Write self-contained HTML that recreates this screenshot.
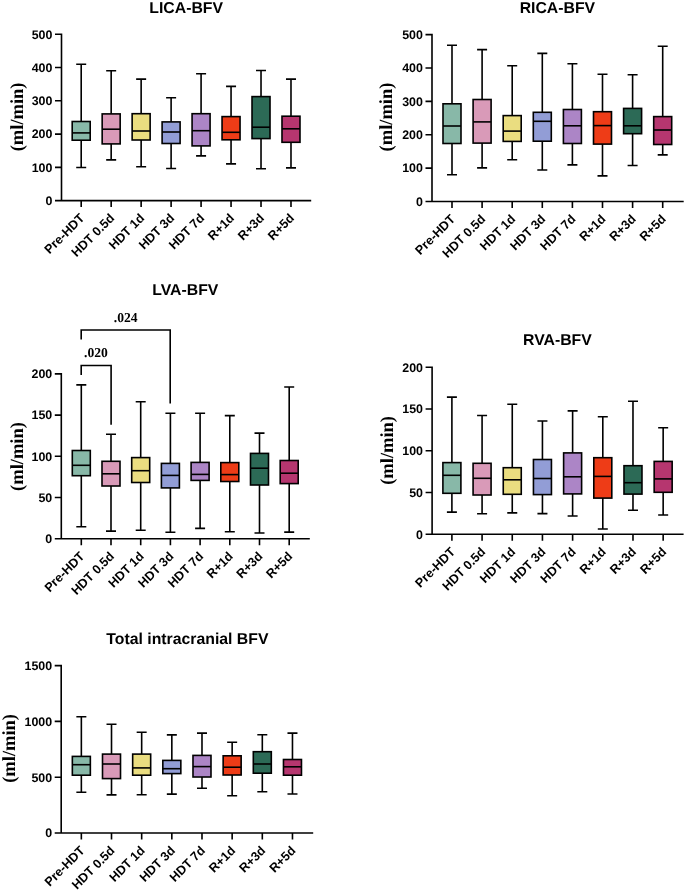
<!DOCTYPE html><html><head><meta charset="utf-8"><title>BFV box plots</title><style>html,body{margin:0;padding:0;background:#fff;}body{width:685px;height:891px;overflow:hidden;}svg{display:block;will-change:transform;}text{text-rendering:geometricPrecision;}.t{font-family:"Liberation Sans",sans-serif;font-weight:bold;fill:#000;}.s{font-family:"Liberation Serif",serif;font-weight:bold;fill:#000;}</style></head><body>
<svg width="685" height="891" viewBox="0 0 685 891">
<rect width="685" height="891" fill="#fff"/>
<g><text class="t" x="186.2" y="12.8" font-size="15.8" text-anchor="middle">LICA-BFV</text><text class="s" font-size="18.5" text-anchor="middle" transform="translate(16.6,116.9) rotate(-90)" y="6">(ml/min)</text><text class="t" x="52.4" y="204.9" font-size="12.4" text-anchor="end">0</text><text class="t" x="52.4" y="171.64" font-size="12.4" text-anchor="end">100</text><text class="t" x="52.4" y="138.38" font-size="12.4" text-anchor="end">200</text><text class="t" x="52.4" y="105.12" font-size="12.4" text-anchor="end">300</text><text class="t" x="52.4" y="71.86" font-size="12.4" text-anchor="end">400</text><text class="t" x="52.4" y="38.6" font-size="12.4" text-anchor="end">500</text><text class="t" font-size="12.6" text-anchor="end" transform="translate(85.2,218.9) rotate(-45)">Pre-HDT</text><text class="t" font-size="12.6" text-anchor="end" transform="translate(115.17,218.9) rotate(-45)">HDT 0.5d</text><text class="t" font-size="12.6" text-anchor="end" transform="translate(145.14,218.9) rotate(-45)">HDT 1d</text><text class="t" font-size="12.6" text-anchor="end" transform="translate(175.11,218.9) rotate(-45)">HDT 3d</text><text class="t" font-size="12.6" text-anchor="end" transform="translate(205.08,218.9) rotate(-45)">HDT 7d</text><text class="t" font-size="12.6" text-anchor="end" transform="translate(235.05,218.9) rotate(-45)">R+1d</text><text class="t" font-size="12.6" text-anchor="end" transform="translate(265.02,218.9) rotate(-45)">R+3d</text><text class="t" font-size="12.6" text-anchor="end" transform="translate(294.99,218.9) rotate(-45)">R+5d</text><path d="M61.5 33.5V200.6H311.2M61.5 200.6H55M61.5 167.34H55M61.5 134.08H55M61.5 100.82H55M61.5 67.56H55M61.5 34.3H55M81.2 200.6V207.1M111.17 200.6V207.1M141.14 200.6V207.1M171.11 200.6V207.1M201.08 200.6V207.1M231.05 200.6V207.1M261.02 200.6V207.1M290.99 200.6V207.1" fill="none" stroke="#000" stroke-width="1.6"/><path d="M81.2 64.2V121.5M81.2 140.2V167.5M76.2 64.2H86.2M76.2 167.5H86.2" fill="none" stroke="#000" stroke-width="1.6"/><rect x="72.2" y="121.5" width="18" height="18.7" fill="#88B8A8" stroke="#000" stroke-width="1.6"/><path d="M72.2 132.9H90.2" stroke="#000" stroke-width="1.6"/><path d="M111.17 70.7V113.9M111.17 143.9V159.9M106.17 70.7H116.17M106.17 159.9H116.17" fill="none" stroke="#000" stroke-width="1.6"/><rect x="102.17" y="113.9" width="18" height="30" fill="#D99AB8" stroke="#000" stroke-width="1.6"/><path d="M102.17 129.2H120.17" stroke="#000" stroke-width="1.6"/><path d="M141.14 79.1V113.7M141.14 140V166.7M136.14 79.1H146.14M136.14 166.7H146.14" fill="none" stroke="#000" stroke-width="1.6"/><rect x="132.14" y="113.7" width="18" height="26.3" fill="#EADD80" stroke="#000" stroke-width="1.6"/><path d="M132.14 131H150.14" stroke="#000" stroke-width="1.6"/><path d="M171.11 97.8V121.9M171.11 143.5V168.5M166.11 97.8H176.11M166.11 168.5H176.11" fill="none" stroke="#000" stroke-width="1.6"/><rect x="162.11" y="121.9" width="18" height="21.6" fill="#929DD6" stroke="#000" stroke-width="1.6"/><path d="M162.11 132H180.11" stroke="#000" stroke-width="1.6"/><path d="M201.08 73.8V113.7M201.08 145.9V155.9M196.08 73.8H206.08M196.08 155.9H206.08" fill="none" stroke="#000" stroke-width="1.6"/><rect x="192.08" y="113.7" width="18" height="32.2" fill="#AC85C6" stroke="#000" stroke-width="1.6"/><path d="M192.08 130.7H210.08" stroke="#000" stroke-width="1.6"/><path d="M231.05 86.4V116.6M231.05 139.8V163.9M226.05 86.4H236.05M226.05 163.9H236.05" fill="none" stroke="#000" stroke-width="1.6"/><rect x="222.05" y="116.6" width="18" height="23.2" fill="#EE3C17" stroke="#000" stroke-width="1.6"/><path d="M222.05 132.3H240.05" stroke="#000" stroke-width="1.6"/><path d="M261.02 70.5V96.6M261.02 138.6V168.8M256.02 70.5H266.02M256.02 168.8H266.02" fill="none" stroke="#000" stroke-width="1.6"/><rect x="252.02" y="96.6" width="18" height="42" fill="#2C6A56" stroke="#000" stroke-width="1.6"/><path d="M252.02 127.2H270.02" stroke="#000" stroke-width="1.6"/><path d="M290.99 79.1V116.2M290.99 142.3V167.9M285.99 79.1H295.99M285.99 167.9H295.99" fill="none" stroke="#000" stroke-width="1.6"/><rect x="281.99" y="116.2" width="18" height="26.1" fill="#B6366F" stroke="#000" stroke-width="1.6"/><path d="M281.99 128.8H299.99" stroke="#000" stroke-width="1.6"/></g>
<g><text class="t" x="557.4" y="12.8" font-size="15.8" text-anchor="middle">RICA-BFV</text><text class="s" font-size="18.5" text-anchor="middle" transform="translate(386.3,117) rotate(-90)" y="6">(ml/min)</text><text class="t" x="422.9" y="205.8" font-size="12.4" text-anchor="end">0</text><text class="t" x="422.9" y="172.42" font-size="12.4" text-anchor="end">100</text><text class="t" x="422.9" y="139.04" font-size="12.4" text-anchor="end">200</text><text class="t" x="422.9" y="105.66" font-size="12.4" text-anchor="end">300</text><text class="t" x="422.9" y="72.28" font-size="12.4" text-anchor="end">400</text><text class="t" x="422.9" y="38.9" font-size="12.4" text-anchor="end">500</text><text class="t" font-size="12.6" text-anchor="end" transform="translate(456,219.8) rotate(-45)">Pre-HDT</text><text class="t" font-size="12.6" text-anchor="end" transform="translate(486.1,219.8) rotate(-45)">HDT 0.5d</text><text class="t" font-size="12.6" text-anchor="end" transform="translate(516.2,219.8) rotate(-45)">HDT 1d</text><text class="t" font-size="12.6" text-anchor="end" transform="translate(546.3,219.8) rotate(-45)">HDT 3d</text><text class="t" font-size="12.6" text-anchor="end" transform="translate(576.4,219.8) rotate(-45)">HDT 7d</text><text class="t" font-size="12.6" text-anchor="end" transform="translate(606.5,219.8) rotate(-45)">R+1d</text><text class="t" font-size="12.6" text-anchor="end" transform="translate(636.6,219.8) rotate(-45)">R+3d</text><text class="t" font-size="12.6" text-anchor="end" transform="translate(666.7,219.8) rotate(-45)">R+5d</text><path d="M432 33.8V201.5H683.7M432 201.5H425.5M432 168.12H425.5M432 134.74H425.5M432 101.36H425.5M432 67.98H425.5M432 34.6H425.5M452 201.5V208M482.1 201.5V208M512.2 201.5V208M542.3 201.5V208M572.4 201.5V208M602.5 201.5V208M632.6 201.5V208M662.7 201.5V208" fill="none" stroke="#000" stroke-width="1.6"/><path d="M452 45.3V103.8M452 143.5V174.7M447 45.3H457M447 174.7H457" fill="none" stroke="#000" stroke-width="1.6"/><rect x="443" y="103.8" width="18" height="39.7" fill="#88B8A8" stroke="#000" stroke-width="1.6"/><path d="M443 126H461" stroke="#000" stroke-width="1.6"/><path d="M482.1 49.6V99.5M482.1 143.1V167.9M477.1 49.6H487.1M477.1 167.9H487.1" fill="none" stroke="#000" stroke-width="1.6"/><rect x="473.1" y="99.5" width="18" height="43.6" fill="#D99AB8" stroke="#000" stroke-width="1.6"/><path d="M473.1 121.9H491.1" stroke="#000" stroke-width="1.6"/><path d="M512.2 65.7V115.6M512.2 141.4V159.8M507.2 65.7H517.2M507.2 159.8H517.2" fill="none" stroke="#000" stroke-width="1.6"/><rect x="503.2" y="115.6" width="18" height="25.8" fill="#EADD80" stroke="#000" stroke-width="1.6"/><path d="M503.2 131.1H521.2" stroke="#000" stroke-width="1.6"/><path d="M542.3 53.4V112.3M542.3 141.2V170M537.3 53.4H547.3M537.3 170H547.3" fill="none" stroke="#000" stroke-width="1.6"/><rect x="533.3" y="112.3" width="18" height="28.9" fill="#929DD6" stroke="#000" stroke-width="1.6"/><path d="M533.3 121.3H551.3" stroke="#000" stroke-width="1.6"/><path d="M572.4 63.8V109.5M572.4 143.5V164.9M567.4 63.8H577.4M567.4 164.9H577.4" fill="none" stroke="#000" stroke-width="1.6"/><rect x="563.4" y="109.5" width="18" height="34" fill="#AC85C6" stroke="#000" stroke-width="1.6"/><path d="M563.4 125.8H581.4" stroke="#000" stroke-width="1.6"/><path d="M602.5 74.2V111.7M602.5 144.1V175.9M597.5 74.2H607.5M597.5 175.9H607.5" fill="none" stroke="#000" stroke-width="1.6"/><rect x="593.5" y="111.7" width="18" height="32.4" fill="#EE3C17" stroke="#000" stroke-width="1.6"/><path d="M593.5 125.6H611.5" stroke="#000" stroke-width="1.6"/><path d="M632.6 74.8V108.4M632.6 133.7V165.5M627.6 74.8H637.6M627.6 165.5H637.6" fill="none" stroke="#000" stroke-width="1.6"/><rect x="623.6" y="108.4" width="18" height="25.3" fill="#2C6A56" stroke="#000" stroke-width="1.6"/><path d="M623.6 125.8H641.6" stroke="#000" stroke-width="1.6"/><path d="M662.7 46.3V116.6M662.7 144.5V154.9M657.7 46.3H667.7M657.7 154.9H667.7" fill="none" stroke="#000" stroke-width="1.6"/><rect x="653.7" y="116.6" width="18" height="27.9" fill="#B6366F" stroke="#000" stroke-width="1.6"/><path d="M653.7 130H671.7" stroke="#000" stroke-width="1.6"/></g>
<g><text class="t" x="185.3" y="295" font-size="15.8" text-anchor="middle">LVA-BFV</text><text class="s" font-size="18.5" text-anchor="middle" transform="translate(16.7,456.5) rotate(-90)" y="6">(ml/min)</text><text class="t" x="52.2" y="543" font-size="12.4" text-anchor="end">0</text><text class="t" x="52.2" y="501.8" font-size="12.4" text-anchor="end">50</text><text class="t" x="52.2" y="460.6" font-size="12.4" text-anchor="end">100</text><text class="t" x="52.2" y="419.4" font-size="12.4" text-anchor="end">150</text><text class="t" x="52.2" y="378.2" font-size="12.4" text-anchor="end">200</text><text class="t" font-size="12.6" text-anchor="end" transform="translate(85.3,557) rotate(-45)">Pre-HDT</text><text class="t" font-size="12.6" text-anchor="end" transform="translate(115,557) rotate(-45)">HDT 0.5d</text><text class="t" font-size="12.6" text-anchor="end" transform="translate(144.7,557) rotate(-45)">HDT 1d</text><text class="t" font-size="12.6" text-anchor="end" transform="translate(174.4,557) rotate(-45)">HDT 3d</text><text class="t" font-size="12.6" text-anchor="end" transform="translate(204.1,557) rotate(-45)">HDT 7d</text><text class="t" font-size="12.6" text-anchor="end" transform="translate(233.8,557) rotate(-45)">R+1d</text><text class="t" font-size="12.6" text-anchor="end" transform="translate(263.5,557) rotate(-45)">R+3d</text><text class="t" font-size="12.6" text-anchor="end" transform="translate(293.2,557) rotate(-45)">R+5d</text><path d="M61.3 373.1V538.7H309.8M61.3 538.7H54.8M61.3 497.5H54.8M61.3 456.3H54.8M61.3 415.1H54.8M61.3 373.9H54.8M81.3 538.7V545.2M111 538.7V545.2M140.7 538.7V545.2M170.4 538.7V545.2M200.1 538.7V545.2M229.8 538.7V545.2M259.5 538.7V545.2M289.2 538.7V545.2" fill="none" stroke="#000" stroke-width="1.6"/><path d="M81.3 384.9V450.5M81.3 475.7V526.7M76.3 384.9H86.3M76.3 526.7H86.3" fill="none" stroke="#000" stroke-width="1.6"/><rect x="72.3" y="450.5" width="18" height="25.2" fill="#88B8A8" stroke="#000" stroke-width="1.6"/><path d="M72.3 465.3H90.3" stroke="#000" stroke-width="1.6"/><path d="M111 434.3V461.3M111 486V531.1M106 434.3H116M106 531.1H116" fill="none" stroke="#000" stroke-width="1.6"/><rect x="102" y="461.3" width="18" height="24.7" fill="#D99AB8" stroke="#000" stroke-width="1.6"/><path d="M102 473.8H120" stroke="#000" stroke-width="1.6"/><path d="M140.7 401.7V457.6M140.7 482.5V530.3M135.7 401.7H145.7M135.7 530.3H145.7" fill="none" stroke="#000" stroke-width="1.6"/><rect x="131.7" y="457.6" width="18" height="24.9" fill="#EADD80" stroke="#000" stroke-width="1.6"/><path d="M131.7 470.7H149.7" stroke="#000" stroke-width="1.6"/><path d="M170.4 413.2V463.4M170.4 487.9V532.3M165.4 413.2H175.4M165.4 532.3H175.4" fill="none" stroke="#000" stroke-width="1.6"/><rect x="161.4" y="463.4" width="18" height="24.5" fill="#929DD6" stroke="#000" stroke-width="1.6"/><path d="M161.4 475.4H179.4" stroke="#000" stroke-width="1.6"/><path d="M200.1 413.2V462.4M200.1 480.4V528.4M195.1 413.2H205.1M195.1 528.4H205.1" fill="none" stroke="#000" stroke-width="1.6"/><rect x="191.1" y="462.4" width="18" height="18" fill="#AC85C6" stroke="#000" stroke-width="1.6"/><path d="M191.1 474.4H209.1" stroke="#000" stroke-width="1.6"/><path d="M229.8 415.6V462.6M229.8 481.5V531.7M224.8 415.6H234.8M224.8 531.7H234.8" fill="none" stroke="#000" stroke-width="1.6"/><rect x="220.8" y="462.6" width="18" height="18.9" fill="#EE3C17" stroke="#000" stroke-width="1.6"/><path d="M220.8 474.6H238.8" stroke="#000" stroke-width="1.6"/><path d="M259.5 433.1V453.4M259.5 485V533M254.5 433.1H264.5M254.5 533H264.5" fill="none" stroke="#000" stroke-width="1.6"/><rect x="250.5" y="453.4" width="18" height="31.6" fill="#2C6A56" stroke="#000" stroke-width="1.6"/><path d="M250.5 468.2H268.5" stroke="#000" stroke-width="1.6"/><path d="M289.2 387V460.5M289.2 483.6V532.1M284.2 387H294.2M284.2 532.1H294.2" fill="none" stroke="#000" stroke-width="1.6"/><rect x="280.2" y="460.5" width="18" height="23.1" fill="#B6366F" stroke="#000" stroke-width="1.6"/><path d="M280.2 473.2H298.2" stroke="#000" stroke-width="1.6"/></g>
<g><text class="t" x="557.4" y="344.7" font-size="15.8" text-anchor="middle">RVA-BFV</text><text class="s" font-size="18.5" text-anchor="middle" transform="translate(386.7,450.4) rotate(-90)" y="6">(ml/min)</text><text class="t" x="423" y="538.6" font-size="12.4" text-anchor="end">0</text><text class="t" x="423" y="496.85" font-size="12.4" text-anchor="end">50</text><text class="t" x="423" y="455.1" font-size="12.4" text-anchor="end">100</text><text class="t" x="423" y="413.35" font-size="12.4" text-anchor="end">150</text><text class="t" x="423" y="371.6" font-size="12.4" text-anchor="end">200</text><text class="t" font-size="12.6" text-anchor="end" transform="translate(455.9,552.6) rotate(-45)">Pre-HDT</text><text class="t" font-size="12.6" text-anchor="end" transform="translate(486.08,552.6) rotate(-45)">HDT 0.5d</text><text class="t" font-size="12.6" text-anchor="end" transform="translate(516.26,552.6) rotate(-45)">HDT 1d</text><text class="t" font-size="12.6" text-anchor="end" transform="translate(546.44,552.6) rotate(-45)">HDT 3d</text><text class="t" font-size="12.6" text-anchor="end" transform="translate(576.62,552.6) rotate(-45)">HDT 7d</text><text class="t" font-size="12.6" text-anchor="end" transform="translate(606.8,552.6) rotate(-45)">R+1d</text><text class="t" font-size="12.6" text-anchor="end" transform="translate(636.98,552.6) rotate(-45)">R+3d</text><text class="t" font-size="12.6" text-anchor="end" transform="translate(667.16,552.6) rotate(-45)">R+5d</text><path d="M432.1 366.5V534.3H683.6M432.1 534.3H425.6M432.1 492.55H425.6M432.1 450.8H425.6M432.1 409.05H425.6M432.1 367.3H425.6M451.9 534.3V540.8M482.08 534.3V540.8M512.26 534.3V540.8M542.44 534.3V540.8M572.62 534.3V540.8M602.8 534.3V540.8M632.98 534.3V540.8M663.16 534.3V540.8" fill="none" stroke="#000" stroke-width="1.6"/><path d="M451.9 397.1V462.6M451.9 493.3V512.1M446.9 397.1H456.9M446.9 512.1H456.9" fill="none" stroke="#000" stroke-width="1.6"/><rect x="442.9" y="462.6" width="18" height="30.7" fill="#88B8A8" stroke="#000" stroke-width="1.6"/><path d="M442.9 475.3H460.9" stroke="#000" stroke-width="1.6"/><path d="M482.08 415.5V463.3M482.08 495V513.8M477.08 415.5H487.08M477.08 513.8H487.08" fill="none" stroke="#000" stroke-width="1.6"/><rect x="473.08" y="463.3" width="18" height="31.7" fill="#D99AB8" stroke="#000" stroke-width="1.6"/><path d="M473.08 478.3H491.08" stroke="#000" stroke-width="1.6"/><path d="M512.26 404.3V467.7M512.26 494.3V512.9M507.26 404.3H517.26M507.26 512.9H517.26" fill="none" stroke="#000" stroke-width="1.6"/><rect x="503.26" y="467.7" width="18" height="26.6" fill="#EADD80" stroke="#000" stroke-width="1.6"/><path d="M503.26 479.8H521.26" stroke="#000" stroke-width="1.6"/><path d="M542.44 421V459.5M542.44 494.6V513.6M537.44 421H547.44M537.44 513.6H547.44" fill="none" stroke="#000" stroke-width="1.6"/><rect x="533.44" y="459.5" width="18" height="35.1" fill="#929DD6" stroke="#000" stroke-width="1.6"/><path d="M533.44 478.5H551.44" stroke="#000" stroke-width="1.6"/><path d="M572.62 410.9V452.9M572.62 493.9V516M567.62 410.9H577.62M567.62 516H577.62" fill="none" stroke="#000" stroke-width="1.6"/><rect x="563.62" y="452.9" width="18" height="41" fill="#AC85C6" stroke="#000" stroke-width="1.6"/><path d="M563.62 476.8H581.62" stroke="#000" stroke-width="1.6"/><path d="M602.8 416.7V457.7M602.8 498.1V529M597.8 416.7H607.8M597.8 529H607.8" fill="none" stroke="#000" stroke-width="1.6"/><rect x="593.8" y="457.7" width="18" height="40.4" fill="#EE3C17" stroke="#000" stroke-width="1.6"/><path d="M593.8 476.4H611.8" stroke="#000" stroke-width="1.6"/><path d="M632.98 401.3V465.7M632.98 494.1V510.3M627.98 401.3H637.98M627.98 510.3H637.98" fill="none" stroke="#000" stroke-width="1.6"/><rect x="623.98" y="465.7" width="18" height="28.4" fill="#2C6A56" stroke="#000" stroke-width="1.6"/><path d="M623.98 482.7H641.98" stroke="#000" stroke-width="1.6"/><path d="M663.16 427.7V461.4M663.16 492.3V515M658.16 427.7H668.16M658.16 515H668.16" fill="none" stroke="#000" stroke-width="1.6"/><rect x="654.16" y="461.4" width="18" height="30.9" fill="#B6366F" stroke="#000" stroke-width="1.6"/><path d="M654.16 478.9H672.16" stroke="#000" stroke-width="1.6"/></g>
<g><text class="t" x="187.4" y="644.1" font-size="15.8" text-anchor="middle">Total intracranial BFV</text><text class="s" font-size="18.5" text-anchor="middle" transform="translate(9.2,748.4) rotate(-90)" y="6">(ml/min)</text><text class="t" x="52.1" y="837.3" font-size="12.4" text-anchor="end">0</text><text class="t" x="52.1" y="781.5" font-size="12.4" text-anchor="end">500</text><text class="t" x="52.1" y="725.7" font-size="12.4" text-anchor="end">1000</text><text class="t" x="52.1" y="669.9" font-size="12.4" text-anchor="end">1500</text><text class="t" font-size="12.6" text-anchor="end" transform="translate(85.35,851.3) rotate(-45)">Pre-HDT</text><text class="t" font-size="12.6" text-anchor="end" transform="translate(115.51,851.3) rotate(-45)">HDT 0.5d</text><text class="t" font-size="12.6" text-anchor="end" transform="translate(145.67,851.3) rotate(-45)">HDT 1d</text><text class="t" font-size="12.6" text-anchor="end" transform="translate(175.83,851.3) rotate(-45)">HDT 3d</text><text class="t" font-size="12.6" text-anchor="end" transform="translate(205.99,851.3) rotate(-45)">HDT 7d</text><text class="t" font-size="12.6" text-anchor="end" transform="translate(236.15,851.3) rotate(-45)">R+1d</text><text class="t" font-size="12.6" text-anchor="end" transform="translate(266.31,851.3) rotate(-45)">R+3d</text><text class="t" font-size="12.6" text-anchor="end" transform="translate(296.47,851.3) rotate(-45)">R+5d</text><path d="M61.2 664.8V833H313.2M61.2 833H54.7M61.2 777.2H54.7M61.2 721.4H54.7M61.2 665.6H54.7M81.35 833V839.5M111.51 833V839.5M141.67 833V839.5M171.83 833V839.5M201.99 833V839.5M232.15 833V839.5M262.31 833V839.5M292.47 833V839.5" fill="none" stroke="#000" stroke-width="1.6"/><path d="M81.35 716.7V756.4M81.35 775.2V792.2M76.35 716.7H86.35M76.35 792.2H86.35" fill="none" stroke="#000" stroke-width="1.6"/><rect x="72.35" y="756.4" width="18" height="18.8" fill="#88B8A8" stroke="#000" stroke-width="1.6"/><path d="M72.35 764.7H90.35" stroke="#000" stroke-width="1.6"/><path d="M111.51 724.3V754.1M111.51 778.6V794.9M106.51 724.3H116.51M106.51 794.9H116.51" fill="none" stroke="#000" stroke-width="1.6"/><rect x="102.51" y="754.1" width="18" height="24.5" fill="#D99AB8" stroke="#000" stroke-width="1.6"/><path d="M102.51 764H120.51" stroke="#000" stroke-width="1.6"/><path d="M141.67 732.3V754.1M141.67 775.2V794.7M136.67 732.3H146.67M136.67 794.7H146.67" fill="none" stroke="#000" stroke-width="1.6"/><rect x="132.67" y="754.1" width="18" height="21.1" fill="#EADD80" stroke="#000" stroke-width="1.6"/><path d="M132.67 767.9H150.67" stroke="#000" stroke-width="1.6"/><path d="M171.83 734.9V760.4M171.83 773.6V794.1M166.83 734.9H176.83M166.83 794.1H176.83" fill="none" stroke="#000" stroke-width="1.6"/><rect x="162.83" y="760.4" width="18" height="13.2" fill="#929DD6" stroke="#000" stroke-width="1.6"/><path d="M162.83 768.7H180.83" stroke="#000" stroke-width="1.6"/><path d="M201.99 733.1V755.4M201.99 777V788.3M196.99 733.1H206.99M196.99 788.3H206.99" fill="none" stroke="#000" stroke-width="1.6"/><rect x="192.99" y="755.4" width="18" height="21.6" fill="#AC85C6" stroke="#000" stroke-width="1.6"/><path d="M192.99 766.6H210.99" stroke="#000" stroke-width="1.6"/><path d="M232.15 742.3V755.8M232.15 775V795.8M227.15 742.3H237.15M227.15 795.8H237.15" fill="none" stroke="#000" stroke-width="1.6"/><rect x="223.15" y="755.8" width="18" height="19.2" fill="#EE3C17" stroke="#000" stroke-width="1.6"/><path d="M223.15 767.2H241.15" stroke="#000" stroke-width="1.6"/><path d="M262.31 734.7V751.7M262.31 773.2V791.8M257.31 734.7H267.31M257.31 791.8H267.31" fill="none" stroke="#000" stroke-width="1.6"/><rect x="253.31" y="751.7" width="18" height="21.5" fill="#2C6A56" stroke="#000" stroke-width="1.6"/><path d="M253.31 764H271.31" stroke="#000" stroke-width="1.6"/><path d="M292.47 733.1V759.5M292.47 775.2V794M287.47 733.1H297.47M287.47 794H297.47" fill="none" stroke="#000" stroke-width="1.6"/><rect x="283.47" y="759.5" width="18" height="15.7" fill="#B6366F" stroke="#000" stroke-width="1.6"/><path d="M283.47 766.8H301.47" stroke="#000" stroke-width="1.6"/></g>
<path d="M81.2 339.6V330H170.2V403.6M81.2 375V365.5H111.1V424.8" fill="none" stroke="#000" stroke-width="1.6"/>
<text class="s" x="125.7" y="322.0" font-size="13.6" text-anchor="middle">.024</text>
<text class="s" x="96" y="357.2" font-size="13.6" text-anchor="middle">.020</text>
</svg></body></html>
